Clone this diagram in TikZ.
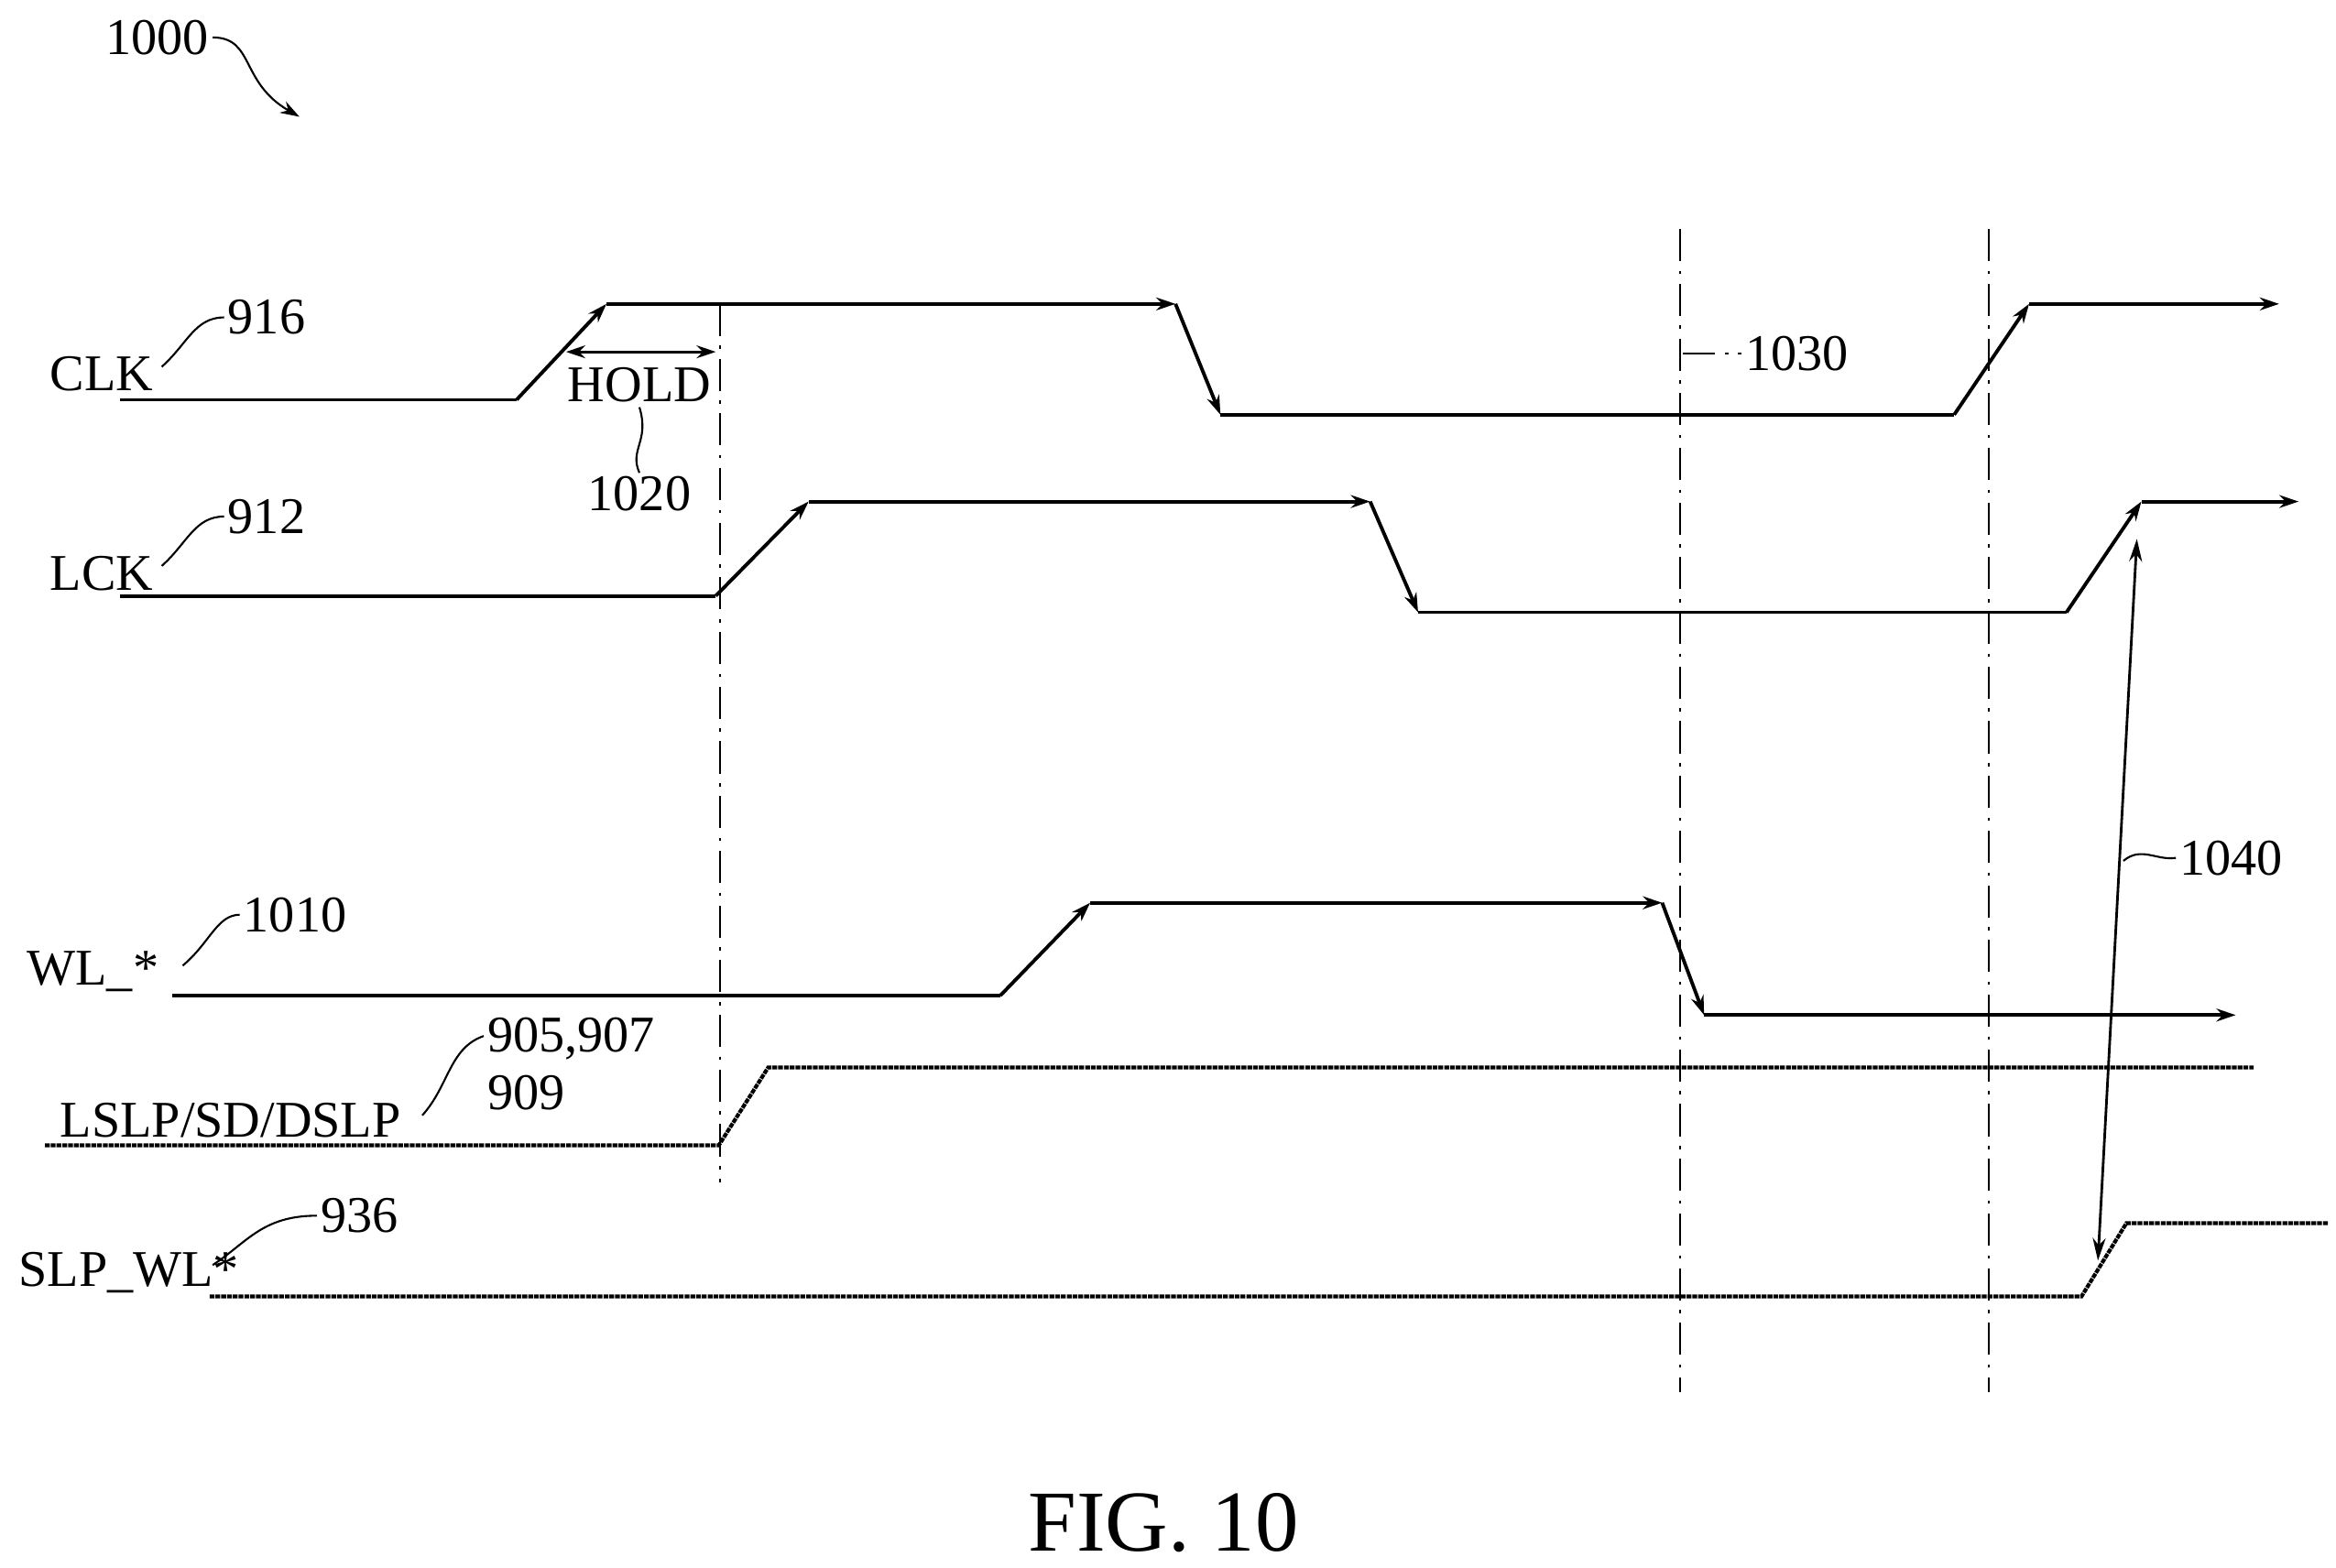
\documentclass[tikz,border=0pt]{standalone}
\usepackage{fontspec}
\setmainfont{Liberation Serif}
\usetikzlibrary{arrows.meta}
\begin{document}
\begin{tikzpicture}[x=0.01635cm,y=-0.01635cm,
  sig/.style={black, line width=1.1pt, -{Stealth[length=6pt,width=4pt]}},
  slp/.style={black, line width=1.2pt, dash pattern=on 1.5pt off 0.3pt},
  grid/.style={black, line width=0.6pt, dash pattern=on 10pt off 3pt on 1pt off 3pt},
  lbl/.style={font=\fontsize{16}{18}\selectfont, inner sep=1pt},
  lead/.style={black, line width=0.6pt}]
        \useasboundingbox (0,0) rectangle (1560,1047);

        % dash-dot markers
        \draw[grid] (481,203) -- (481,790);
        \draw[grid] (1122,153) -- (1122,930);
        \draw[grid] (1328,153) -- (1328,930);

        % CLK
        \draw[black, line width=1.1pt] (80,267) -- (345,267);
        \draw[sig] (345,267) -- (405,203);
        \draw[sig] (405,203) -- (785,203);
        \draw[sig] (785,203) -- (815,277);
        \draw[black, line width=1.1pt] (815,277) -- (1305,277);
        \draw[sig] (1305,277) -- (1355,203);
        \draw[sig] (1355,203) -- (1522,203);

        % LCK
        \draw[black, line width=1.1pt] (80,398) -- (478,398);
        \draw[sig] (478,398) -- (540,335);
        \draw[sig] (540,335) -- (915,335);
        \draw[sig] (915,335) -- (947,409);
        \draw[black, line width=1.1pt] (947,409) -- (1380,409);
        \draw[sig] (1380,409) -- (1430,335);
        \draw[sig] (1430,335) -- (1535,335);

        % WL_*
        \draw[black, line width=1.1pt] (115,665) -- (668,665);
        \draw[sig] (668,665) -- (728,603);
        \draw[sig] (728,603) -- (1110,603);
        \draw[sig] (1110,603) -- (1138,678);
        \draw[sig] (1138,678) -- (1493,678);

        % LSLP/SD/DSLP and SLP_WL*
        \draw[slp] (30,765) -- (480,765) -- (513,713) -- (1505,713);
        \draw[slp] (140,866) -- (1390,866) -- (1420,817) -- (1555,817);

        % hold and delay
        \draw[black, line width=0.8pt, {Stealth[length=6pt,width=4pt]}-{Stealth[length=6pt,width=4pt]}] (378,235) -- (478,235);
        \draw[black, line width=0.8pt, {Stealth[length=7pt,width=4pt]}-{Stealth[length=7pt,width=4pt]}] (1427,360) -- (1401,842);

        % labels
        \node[lbl] (hold) at (427,257) {HOLD};
        \node[lbl] (n1020) at (427,330) {1020};
        \draw[lead] (n1020.north) .. controls (420,300) and (434,295) .. (427,272);
        \node[lbl] (clk) at (68,250) {CLK};
        \node[lbl] (n916) at (178,212) {916};
        \draw[lead] (108,245) .. controls (125,230) and (130,212) .. (n916.west);
        \node[lbl] (lck) at (68,383) {LCK};
        \node[lbl] (n912) at (178,345) {912};
        \draw[lead] (108,378) .. controls (125,363) and (130,345) .. (n912.west);
        \node[lbl] (wl) at (62,649) {WL\_*};
        \node[lbl] (n1010) at (197,611) {1010};
        \draw[lead] (122,645) .. controls (140,630) and (145,611) .. (n1010.west);
        \node[lbl] (lslp) at (154,748) {LSLP/SD/DSLP};
        \node[lbl, align=left, anchor=north west] (n905) at (323,677) {905,907\\909};
        \draw[lead] (282,745) .. controls (300,725) and (300,700) .. (n905.west|-0,692);
        \node[lbl, anchor=west] (slpwl) at (10,850) {SLP\_WL*};
        \node[lbl] (n936) at (240,812) {936};
        \draw[lead] (142,845) .. controls (165,830) and (175,812) .. (n936.west);
        \node[lbl] (n1030) at (1200,236) {1030};
        \draw[grid] (1124,236) -- (n1030.west);
        \node[lbl] (n1040) at (1490,573) {1040};
        \draw[lead] (1418,575) .. controls (1430,565) and (1440,575) .. (n1040.west);
        \node[lbl] (n1000) at (105,25) {1000};
        \draw[lead, -{Stealth[length=6pt,width=4pt]}] (n1000.east) .. controls (170,25) and (160,55) .. (200,78);
        \node[font=\fontsize{27}{29}\selectfont] (fig) at (777,1017) {FIG. 10};
\end{tikzpicture}
\end{document}
